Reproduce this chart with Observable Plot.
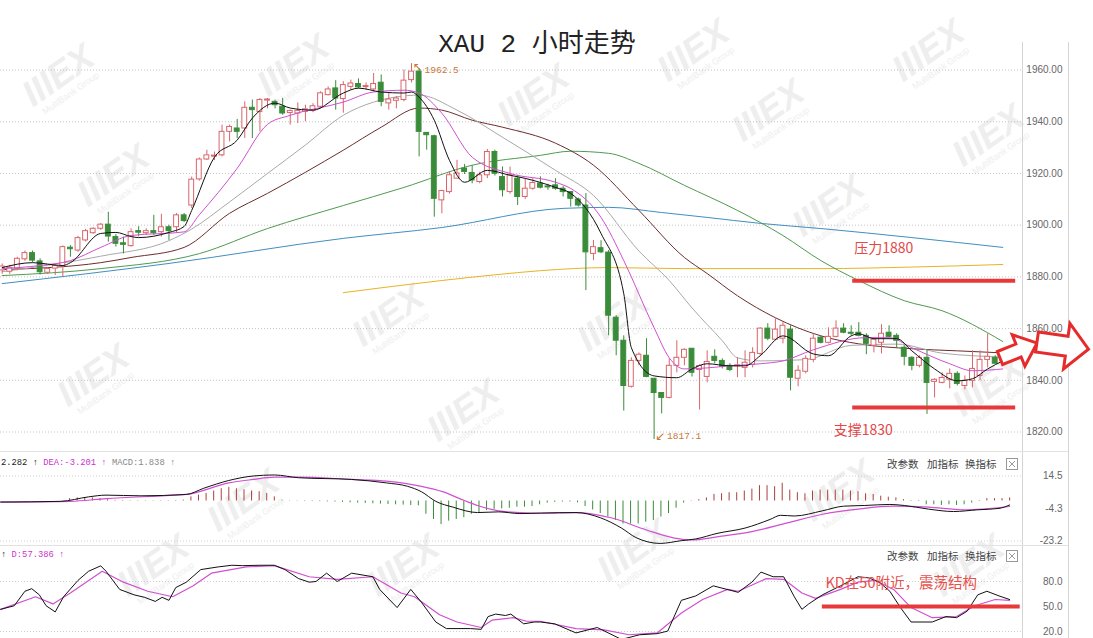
<!DOCTYPE html>
<html><head><meta charset="utf-8">
<script src="https://cdn.jsdelivr.net/npm/d3@7"></script>
<script src="https://cdn.jsdelivr.net/npm/@observablehq/plot@0.6"></script>
<style>
body{margin:0;background:#fff;}
#wrap{position:relative;width:1093px;height:638px;overflow:hidden;background:#fff;font-family:"Liberation Sans",sans-serif;}
.abs{position:absolute;white-space:pre;line-height:1;}
</style></head><body><div id="wrap"></div>
<script>
// ---------- DATA ----------
const open = [1882.5,1882.0,1883.1,1886.8,1889.2,1886,1881.6,1883.2,1884.2,1891.3,
1890.2,1894.1,1896.9,1898.6,1900.2,1895.4,1893,1891.9,1897.7,1896.9,
1897.7,1897.3,1899.2,1899.2,1903.8,1907.6,1917.7,1925.4,1926.5,1927,
1936.1,1937.4,1937.4,1945.4,1943.8,1948.2,1947.7,1945.8,1943.4,1943.2,
1943.8,1944.2,1945.8,1950.3,1952.9,1948.8,1953.5,1954.6,1953.4,1952.5,
1955.1,1947.1,1948.1,1948.4,1956.1,1959.4,1935.7,1934.4,1909.6,1912.8,
1918,1921.9,1920.2,1916.7,1919.3,1928.3,1918.6,1912.8,1918,1910.9,
1914.1,1916.1,1914.6,1915.4,1914.1,1912.8,1909.9,1907.6,1888.9,1891.1,
1889.4,1864.2,1855.3,1837.5,1847.5,1849.5,1840.6,1835.1,1833.2,1845.6,
1848.7,1852.2,1844,1841.3,1849.1,1847.5,1845.6,1845.4,1844.8,1846,
1850.2,1860,1855.7,1856.1,1859.6,1840.6,1843.3,1847.9,1856.5,1854.5,
1856.8,1860,1858.4,1858.4,1857.2,1853.4,1854.5,1858.4,1857.2,1852.6,
1848.7,1845.6,1848.7,1839.4,1839,1840.2,1842.5,1837.8,1839.8,1841.7,
1847.9,1848.7,1847.5];
const high = [1885,1884.5,1887.6,1890,1890,1887,1883.5,1885,1892,1892.1,
1895.7,1898.4,1899,1900.6,1905,1896.4,1895.4,1898.6,1899.4,1898.6,
1903.8,1904.2,1900,1904.5,1904.5,1918.6,1926,1929,1928.3,1938.7,
1938.7,1940.9,1947.7,1948.4,1949,1949,1948.4,1949,1944.5,1947.3,
1946.4,1947,1951.6,1953.5,1955.9,1955.5,1956.1,1956.6,1955,1958.7,
1958.1,1951.2,1949.7,1960,1962.5,1960.6,1935.7,1934.8,1913.5,1920.6,
1925.1,1923.5,1923,1920.5,1929.3,1929,1922.5,1922.5,1919.3,1918,
1918,1918.7,1915.8,1918,1915,1913,1910.5,1912.2,1894.1,1894,
1890.2,1865,1857.2,1848.7,1850.6,1856.1,1840.6,1835.1,1848.3,1855.3,
1852.2,1852.2,1846,1851.4,1851.8,1848.3,1846.4,1848.7,1851.4,1852.6,
1860.3,1861.9,1863.8,1862.3,1861.1,1845.6,1849.5,1858,1857.2,1860.3,
1863,1861.9,1861.1,1862.3,1858,1856.5,1861.5,1861.1,1858,1853.4,
1849.1,1849.5,1851.8,1840.6,1842.9,1844.4,1843.3,1841.7,1851.4,1851.4,
1858,1849.5,1849.5];
const low = [1881,1881,1882.4,1886,1885.5,1880.7,1881,1880.5,1879.8,1887.6,
1889.5,1893.5,1896.5,1898,1893.4,1891.5,1888.9,1891.5,1895.5,1896,
1896,1895.4,1894.1,1897,1901,1906.4,1917,1925,1925,1926.4,
1932.2,1933.5,1933.5,1933.5,1936.1,1945,1945,1942.5,1938.7,1939.3,
1940,1943.5,1945,1950,1944.5,1943.3,1952.2,1952.7,1952.2,1951.6,
1945.8,1944.5,1945,1947.7,1955,1926.4,1929,1903.1,1904.4,1912,
1918,1919.6,1916,1916,1918,1919,1910.9,1912,1907.6,1910,
1913.5,1914,1913.5,1913.5,1910.9,1907,1907,1874.7,1886.3,1889,
1857.2,1849.5,1828.1,1837,1845.6,1841,1817.1,1827,1832.8,1842.9,
1845.6,1841.3,1828.5,1839,1846.4,1844.4,1843.3,1841,1841,1844.8,
1849.5,1855.3,1855.3,1854.1,1835.9,1837.5,1842.5,1846.8,1854.1,1854.1,
1856.4,1858,1857.2,1856.8,1849.9,1850.6,1850.2,1856.4,1852.6,1845.6,
1843.7,1844.8,1826.8,1833.2,1838.6,1836.7,1837.8,1836.3,1837.1,1839.8,
1844.8,1846.4,1846.8];
const close = [1884,1883.5,1887,1889.2,1886.3,1881.8,1883.1,1884.2,1891.5,1890.7,
1895,1897.7,1898.6,1900.2,1895.6,1892.8,1892.4,1897.3,1897.1,1897.7,
1896.9,1899.2,1897.7,1903.8,1901.6,1917.6,1925.4,1927,1926.8,1936.1,
1938,1936.1,1945.4,1944.5,1948.4,1948.5,1946.4,1943.2,1944.2,1944.2,
1944.8,1946,1951,1952.5,1949,1954.2,1954.8,1953.3,1953.7,1954.6,
1947.7,1948.6,1949,1955.9,1959.4,1936.1,1934.8,1910.2,1913.2,1919.3,
1920,1920.6,1917.3,1919.3,1928.3,1919.9,1913.5,1919.3,1910.9,1914.1,
1916.3,1914.5,1914.4,1914.1,1912.8,1910.2,1907.6,1889.5,1891.5,1889.5,
1865,1855.3,1837.8,1847.5,1849.9,1841.3,1835.1,1833.2,1845.6,1848.7,
1851.8,1842.9,1845.5,1847.1,1847.5,1845.2,1844,1845.8,1846.8,1850.6,
1860,1856.1,1859.6,1861.1,1841,1843.7,1848.3,1856.1,1854.5,1856.8,
1860,1858.4,1858,1857.2,1854.1,1855.7,1858,1856.8,1855.3,1849.1,
1845.6,1848.7,1839,1840.2,1840.9,1842.5,1838.6,1839.8,1844.4,1847.9,
1849.1,1846.4,1848.7];

// moving averages: [candle index, price]
const ma5 = [[0,1883.6],[4,1885.5],[8,1884.4],[9,1885.5],[13,1896.8],[15,1897.2],[17,1895.6],[18,1895.2],[22,1897.2],[24,1899.5],[25,1905.7],[28,1926.3],[31,1932.9],[33,1941.4],[36,1947.2],[38,1945.3],[41,1944.5],[45,1951.1],[47,1953],[50,1951.5],[53,1951.1],[54,1951.5],[55,1949.5],[57,1940.6],[59,1925.1],[61,1916.6],[64,1921.2],[67,1919.3],[69,1918.1],[73,1914.6],[75,1912.3],[79,1896.8],[82,1873.5],[83,1852.6],[86,1841.7],[89,1841],[91,1844.4],[93,1846.4],[96,1845.6],[98,1845.6],[100,1849.5],[103,1857.2],[107,1850.2],[109,1849.5],[112,1857.2],[113,1858],[115,1856.1],[118,1856.1],[120,1851.4],[123,1844.4],[126,1839.8],[128,1840.6],[130,1844.4],[132,1847.5]];
const ma10 = [[0,1883.2],[5,1884.4],[9,1886.3],[13,1891.4],[17,1896],[24,1897.4],[26,1904],[31,1922],[35,1939],[38,1942.5],[45,1947.6],[49,1951.5],[53,1952.2],[55,1951.1],[58,1943.3],[62,1926.3],[67,1920],[73,1916.6],[75,1914.2],[79,1903],[82,1886.3],[86,1860.3],[88,1848.7],[90,1844.4],[93,1844.8],[96,1845.6],[100,1846.4],[103,1847.5],[107,1851.8],[114,1856.5],[117,1856.5],[120,1852.6],[125,1846.4],[128,1843.7],[132,1844.4]];
const ma20 = [[0,1882],[13,1888],[22,1894],[25,1898.5],[30,1909],[35,1920],[40,1931],[45,1942.5],[49,1947.6],[55,1950.3],[60,1944.5],[66,1934],[73,1921.2],[78,1911.5],[84,1890],[88,1878.6],[91,1868],[95,1855.3],[97,1848.7],[100,1847.5],[106,1848],[112,1853.5],[118,1854],[124,1850.5],[128,1849.5],[132,1849]];
const ma30 = [[0,1882.8],[13,1885.5],[17,1887.5],[24,1891.4],[30,1904.6],[35,1912.3],[45,1929],[50,1937.9],[55,1945.3],[58,1944.5],[62,1940.6],[66,1937.9],[73,1931.7],[78,1923.2],[84,1905.7],[90,1887.5],[93,1881.3],[97,1872.7],[102,1864.2],[108,1857.2],[113,1854.1],[120,1852.2],[126,1851.4],[132,1850.6]];
const ma60 = [[0,1880.5],[13,1883.2],[26,1889],[35,1898.7],[45,1907.6],[53,1914.6],[62,1923.2],[71,1927],[75,1928.6],[80,1927.8],[84,1923.9],[90,1915.4],[97,1905.7],[103,1896],[108,1886.3],[113,1878.6],[119,1870.8],[124,1866.9],[132,1855]];
const ma120 = [[0,1877.4],[22,1885.2],[45,1894.9],[58,1899.1],[74,1906.5],[80,1906.9],[87,1904.9],[93,1903],[100,1900.7],[108,1898.7],[120,1895.2],[132,1891.4]];
const ma250 = [[45,1873.9],[52,1876.5],[58,1878.6],[65,1880.8],[71,1882.4],[80,1883.6],[90,1883.2],[108,1883.2],[120,1883.8],[132,1884.8]];
const priceTicks = [1820,1840,1860,1880,1900,1920,1940,1960];
const pressure = {label:"压力1880", value:1878.5};
const support = {label:"支撑1830", value:1829.5};

// MACD panel
const macdHist = [0,0,0,0,0,0,0,0,
1.4,1.8,2.0,1.8,1.4,0.8,0.4,
0.3,0.2,0.2,-0.2,-0.2,0.2,0.2,0.3,0.5,
2.4,3.4,4.4,5.8,7.1,7.9,7.1,6.5,5.8,5.4,4.4,2.4,0.4,
-0.2,-0.2,-0.3,-0.3,-0.4,-0.5,-0.6,-0.8,-1.0,
-1.2,-1.4,-1.6,-1.8,-2.0,-2.2,-2.4,-2.6,-2.8,
-7.7,-10.7,-13.7,-11.7,-10.7,-9.7,-7.7,-6.7,-5.6,-5.0,-4.6,-4.2,-3.6,-3.6,-3.2,-2.2,
-1.2,-0.8,-0.6,-0.6,-1.0,
-3.2,-5.2,-7.3,-9.3,-11.3,-13.3,-13.3,-13.3,-12.3,-11.3,-9.3,-7.3,-4.2,-1.2,0.2,
0.8,1.8,3.8,4.2,4.8,4.8,5.8,6.9,8.9,8.9,8.3,10.3,6.3,4.8,4.2,5.8,6.3,6.3,6.3,6.3,5.8,5.4,4.2,3.8,2.8,2.2,1.8,0.8,
0.3,-0.3,-2.2,-2.2,-2.6,-2.2,-2.6,-2.2,-1.2,-0.3,1.4,1.4,1.4,1.8];
const dif = [[-1.1,-0.6],[6.8,-0.2],[10.5,2.4],[12.8,3.4],[17.4,3.0],[23.4,3.8],[25.7,7.4],[29,11.9],[32.2,14.5],[35,15.1],[38.2,13.5],[45.2,12.5],[49.8,10.5],[52.6,8.5],[54.4,5.4],[56.3,-0.2],[58.6,-3.6],[61.8,-6.7],[64.6,-6.3],[67.4,-7.3],[70.1,-7.0],[74.8,-6.7],[78,-9.7],[80.8,-15.7],[82.7,-21.2],[85.9,-24.6],[88.7,-23],[90.6,-22],[93.4,-18.8],[97.1,-15.7],[100.4,-10.7],[101.8,-8.3],[103.6,-8.7],[107.3,-5.7],[110.1,-3.0],[112.9,-2.6],[116.2,-2.0],[118.1,-2.6],[121.3,-4.7],[124.6,-6.1],[127.8,-5.1],[130.6,-4.3],[132,-2.3]];
const dea = [[-1.1,-0.6],[8.1,-0.2],[12.8,1.4],[22,3.4],[23.4,3.8],[29,10.5],[32.2,12.5],[35,13.9],[38.2,13.9],[45.2,12.5],[49.8,11.5],[54.4,8.5],[57.2,5.4],[60,0.4],[61.8,-2.6],[64.6,-5.7],[67.4,-6.7],[70.2,-7.1],[74.8,-6.7],[79.4,-9.7],[84.1,-16.8],[87.8,-21.5],[90.1,-22.6],[93.4,-20.8],[98,-17.8],[102.7,-12.7],[107.3,-7.7],[112,-4.7],[116.7,-3.0],[121.3,-3.6],[126,-5.1],[132,-3.2]];
const macdTicks = [14.5,-4.3,-23.2];

// KD panel
const kLine = [[-1.1,46.6],[0.7,50.9],[2.1,68.3],[3.0,71.4],[4.0,64],[4.9,50.9],[6.1,43.5],[7.2,61.7],[9.1,81.3],[10.5,92.3],[12.1,98.8],[12.8,92.3],[14.6,70.5],[16.5,64],[17.9,61],[19.3,56.1],[20.2,61],[21.1,57.4],[22.0,72.7],[23.4,79.2],[25.3,94.3],[27.6,97.5],[29.4,99.5],[30.8,99],[33.1,99.5],[35.0,99.5],[36.4,94.3],[38.2,83.5],[39.6,79.2],[40.5,80],[41.9,90],[43.3,80],[45.2,90],[48.0,85.7],[48.9,70.5],[51.2,48.7],[53.0,70.5],[54.4,55.2],[56.3,31.4],[57.7,23.5],[60.9,23.5],[62.3,22.6],[63.2,37.9],[64.2,40.9],[65.5,39.2],[66.2,40.9],[67.9,29.2],[69.3,31.4],[70.1,31.4],[72.0,29.2],[74.8,18.3],[77.6,24.8],[80.8,10.5],[83.2,16.1],[85.5,17.4],[86.9,20.5],[88.7,57.4],[90.6,62.7],[92.9,74.8],[96.2,67],[98.0,79.2],[99.2,91.3],[100.8,85.7],[102.2,85.7],[103.6,61.7],[104.6,46.6],[105.5,53.1],[107.3,64],[109.7,74.8],[112.0,85.7],[113.4,84.4],[114.8,79.2],[116.2,68.3],[117.6,48.7],[119.0,31.4],[121.8,31.4],[123.6,37.9],[125.0,36.6],[126.4,44.4],[127.8,64],[129.0,68.3],[130.6,62.7],[132.0,58.4]];
const dLine = [[-1.1,46.6],[3.5,61.7],[5.8,53.1],[8.1,66.2],[12.3,92.3],[15.1,79.2],[18.3,68.3],[21.6,61.7],[24.3,74.8],[26.7,90],[31.3,97.5],[35.0,99],[39.6,85.7],[43.3,82.6],[48.0,85.7],[51.7,66.2],[53.5,61.7],[56.8,40.1],[59.1,31.4],[62.3,24.8],[63.7,33.6],[66.5,36.6],[68.3,32.3],[70.1,32.3],[74.8,23.5],[78.5,21.9],[81.8,16.1],[85.5,18.3],[88.7,42.2],[91.5,58.4],[94.8,70.5],[96.2,68.3],[99.9,83.5],[102.2,82.6],[104.6,66.2],[106.4,59.7],[109.7,70.5],[112.0,79.2],[114.3,81.3],[116.7,70.5],[119.0,48.7],[121.8,36.6],[125.0,37.9],[127.4,50.9],[130.1,58.4],[132.0,57.4]];
const kdTicks = [80,50,20];
const kdLevel = 50;
const kdNote = "KD在50附近，震荡结构";

// ---------- RENDER ----------
const W = 1093;
const UP = "#d9656b", DOWN = "#3a8c3a", RED = "#e8393a";
const wrap = document.getElementById("wrap");
const candles = open.map((o, i) => ({i, o, h: high[i], l: low[i], c: close[i], up: close[i] >= o}));
const hiIdx = d3.maxIndex(high), loIdx = d3.minIndex(low);
const P = (d) => d[0], V = (d) => d[1];
const axisText = (ticks, fmt) => Plot.text(ticks, {y: d => d, text: fmt, frameAnchor: "right", dx: 40, textAnchor: "end", fill: "#666", fontSize: 10, fontFamily: "Liberation Sans"});

// watermark layer
const NS = "http://www.w3.org/2000/svg";
const wm = document.createElementNS(NS, "svg");
wm.setAttribute("width", W); wm.setAttribute("height", 638);
wm.style.cssText = "position:absolute;left:0;top:0;";
[[65,85],[120,185],[300,75],[395,325],[470,420],[540,105],[700,60],[775,120],[835,215],[935,60],[995,145],[100,385],[250,510],[640,560],[845,500],[995,395],[975,575],[410,575],[620,330],[160,575]].forEach(([x,y]) => {
  const g = document.createElementNS(NS, "g");
  g.setAttribute("transform", `translate(${x},${y}) rotate(-35)`);
  g.innerHTML = `<text text-anchor="middle" font-family="Liberation Sans" font-weight="bold" font-style="italic" font-size="36" fill="#eeeeee">IIIEX</text><text y="13" text-anchor="middle" font-family="Liberation Sans" font-size="9" fill="#eeeeee">MultiBank Group</text>`;
  wm.appendChild(g);
});
wrap.appendChild(wm);

function place(svg, top) {
  svg.style.position = "absolute"; svg.style.left = "0px"; svg.style.top = top + "px";
  wrap.appendChild(svg);
}

const maLine = (data, stroke) => Plot.line(data, {x: P, y: V, stroke, strokeWidth: 1, curve: "monotone-x"});

// main price panel
const main = Plot.plot({
  width: W, height: 450, marginLeft: 0, marginRight: 71, marginTop: 0, marginBottom: 0,
  x: {domain: [-0.224, 134.6], axis: null},
  y: {domain: [1812.85, 1986.9], axis: null},
  color: {type: "identity"},
  style: {background: "transparent", overflow: "visible"},
  marks: [
    Plot.ruleY(priceTicks, {stroke: "#c4c4c4", strokeDasharray: "1,2"}),
    axisText(priceTicks, d => d.toFixed(2)),
    maLine(ma250, "#e6b422"),
    maLine(ma120, "#3f8fc0"),
    maLine(ma60, "#4f9a4f"),
    maLine(ma30, "#6e2c2c"),
    maLine(ma20, "#a9a9a9"),
    Plot.ruleX(candles, {x: "i", y1: "l", y2: "h", stroke: d => d.up ? UP : DOWN, strokeWidth: 1}),
    Plot.rect(candles, {x1: d => d.i - 0.32, x2: d => d.i + 0.32, y1: "o",
      y2: d => Math.abs(d.c - d.o) < 0.4 ? d.o + 0.4 : d.c,
      fill: d => d.up ? "#ffffff" : DOWN, stroke: d => d.up ? UP : DOWN, strokeWidth: 1}),
    maLine(ma10, "#d04fd0"),
    maLine(ma5, "#111111"),
    Plot.ruleY([pressure.value], {x1: 112.2, x2: 133.7, stroke: RED, strokeWidth: 4}),
    Plot.ruleY([support.value], {x1: 112.2, x2: 133.7, stroke: RED, strokeWidth: 4}),
    Plot.text([pressure.label], {x: 116.3, y: 1891, text: d => d, fill: "#e24848", fontSize: 14, fontFamily: "Noto Sans CJK SC"}),
    Plot.text([support.label], {x: 113.6, y: 1820.6, text: d => d, fill: "#e24848", fontSize: 14, fontFamily: "Noto Sans CJK SC"}),
    Plot.text([hiIdx], {x: d => d, y: d => high[d], text: () => "↖", dx: 1, dy: 4, textAnchor: "start", fill: "#c8783a", fontSize: 12, fontFamily: "DejaVu Sans"}),
    Plot.text([hiIdx], {x: d => d, y: d => high[d], text: d => high[d].toFixed(1), dx: 13, dy: 6, textAnchor: "start", fill: "#c8783a", fontSize: 9.5, fontFamily: "Liberation Mono"}),
    Plot.text([loIdx], {x: d => d, y: d => low[d], text: () => "↙", dx: 1, dy: -3, textAnchor: "start", fill: "#c8783a", fontSize: 12, fontFamily: "DejaVu Sans"}),
    Plot.text([loIdx], {x: d => d, y: d => low[d], text: d => low[d].toFixed(1), dx: 13, dy: -4, textAnchor: "start", fill: "#c8783a", fontSize: 9.5, fontFamily: "Liberation Mono"})
  ]
});
place(main, 0);

// MACD panel
const macdRows = macdHist.map((v, i) => ({i, v}));
const macd = Plot.plot({
  width: W, height: 94, marginLeft: 0, marginRight: 71, marginTop: 0, marginBottom: 0,
  x: {domain: [-1.12, 133.7], axis: null},
  y: {domain: [-25.81, 28.71], axis: null},
  color: {type: "identity"},
  style: {background: "transparent", overflow: "visible"},
  marks: [
    Plot.ruleY([14.5, -23.2], {stroke: "#d0d0d0", strokeDasharray: "1,2"}),
    axisText(macdTicks, d => d.toFixed(1)),
    Plot.ruleX(macdRows, {x: "i", y1: 0, y2: "v", stroke: d => d.v >= 0 ? "#a8403c" : "#3a8c3a", strokeWidth: 1}),
    Plot.line(dea, {x: P, y: V, stroke: "#d050d0", strokeWidth: 1.2, curve: "monotone-x"}),
    Plot.line(dif, {x: P, y: V, stroke: "#111", strokeWidth: 1, curve: "monotone-x"})
  ]
});
place(macd, 451);

// KD panel
const kd = Plot.plot({
  width: W, height: 93, marginLeft: 0, marginRight: 71, marginTop: 0, marginBottom: 0,
  x: {domain: [-1.12, 133.7], axis: null},
  y: {domain: [11.6, 123.2], axis: null},
  style: {background: "transparent", overflow: "visible"},
  marks: [
    Plot.ruleY([80, 20], {stroke: "#d0d0d0", strokeDasharray: "1,2"}),
    axisText(kdTicks, d => d.toFixed(1)),
    Plot.line(dLine, {x: P, y: V, stroke: "#d050d0", strokeWidth: 1.2}),
    Plot.line(kLine, {x: P, y: V, stroke: "#111", strokeWidth: 1}),
    Plot.ruleY([kdLevel], {x1: 107.3, x2: 133.4, stroke: RED, strokeWidth: 4}),
    Plot.text([kdNote], {x: 117.7, y: 77.6, text: d => d, fill: "#e8504c", fontSize: 14.5, fontFamily: "Noto Sans CJK SC"})
  ]
});
place(kd, 545);

// HTML texts
function addText(txt, left, top, css) {
  const d = document.createElement("div");
  d.className = "abs"; d.textContent = txt;
  d.style.cssText += `left:${left}px;top:${top}px;` + css;
  wrap.appendChild(d);
  return d;
}
addText("XAU 2 小时走势", 0, 32, "width:1074px;text-align:center;font-family:'Liberation Mono','Noto Sans CJK SC';font-size:26px;color:#222;");
// MACD / KD headers (as visible in the reference)
const mono = "font-family:'Liberation Mono','DejaVu Sans Mono';font-size:8.8px;";
const h1 = document.createElement("div");
h1.className = "abs"; h1.style.cssText += "left:1px;top:459px;" + mono;
h1.innerHTML = `<span style="color:#222">2.282 ↑ </span><span style="color:#cc33cc">DEA:-3.201 ↑ </span><span style="color:#888">MACD:1.838 ↑</span>`;
wrap.appendChild(h1);
const h2 = document.createElement("div");
h2.className = "abs"; h2.style.cssText += "left:1px;top:551px;" + mono;
h2.innerHTML = `<span style="color:#222">↑ </span><span style="color:#cc33cc">D:57.386 ↑</span>`;
wrap.appendChild(h2);
[459, 551].forEach(t => {
  const css = "font-family:'Noto Sans CJK SC';font-size:10.5px;color:#444;";
  addText("改参数", 887, t, css);
  addText("加指标", 927, t, css);
  addText("换指标", 965, t, css);
});

// overlay: frame lines, boxes, arrows
const ov = document.createElementNS(NS, "svg");
ov.setAttribute("width", W); ov.setAttribute("height", 638);
ov.style.cssText = "position:absolute;left:0;top:0;pointer-events:none;";
ov.innerHTML = `
<line x1="1022.5" y1="42" x2="1022.5" y2="638" stroke="#d4d4d4"/>
<line x1="1068.5" y1="42" x2="1068.5" y2="638" stroke="#d4d4d4"/>
<line x1="0" y1="451.5" x2="1068" y2="451.5" stroke="#e2e2e2"/>
<line x1="0" y1="545.5" x2="1068" y2="545.5" stroke="#e2e2e2"/>
<g stroke="#999" fill="none">
<rect x="1006.5" y="458.5" width="11" height="11"/><path d="M1009,461 L1015,467 M1015,461 L1009,467"/>
<rect x="1006.5" y="550.5" width="11" height="11"/><path d="M1009,553 L1015,559 M1015,553 L1009,559"/>
</g>
<path d="M0,-7 L20,-7 L20,-17 L40,0 L20,17 L20,7 L0,7 Z" transform="translate(1000,358) rotate(-22)" fill="#fff" stroke="#e52b2b" stroke-width="3"/>
<path d="M0,-10 L30,-10 L30,-23 L52,0 L30,23 L30,10 L0,10 Z" transform="translate(1037,342) rotate(8)" fill="#fff" stroke="#e52b2b" stroke-width="3"/>
`;
wrap.appendChild(ov);
</script></body></html>
